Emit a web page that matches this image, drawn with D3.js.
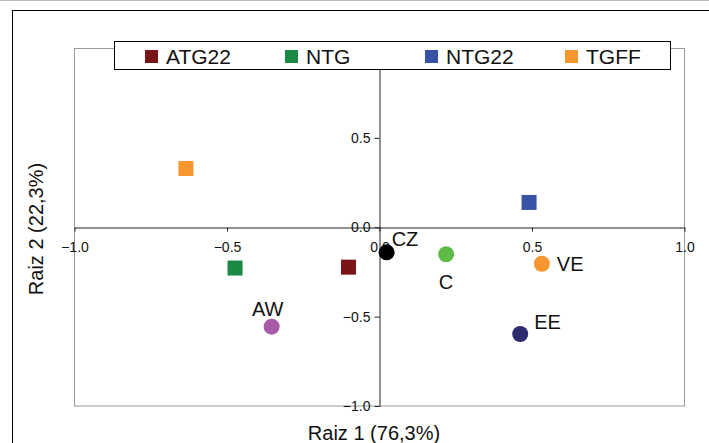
<!DOCTYPE html>
<html>
<head>
<meta charset="utf-8">
<script src="https://unpkg.com/d3@7/dist/d3.min.js"></script>
<style>
  body { margin: 0; background: #fff; }
  svg { display: block; font-family: "Liberation Sans", Arial, sans-serif; }
</style>
</head>
<body>
<div class="chart"></div>
<script>
// group centroids (squares)
const groups = ["ATG22", "NTG", "NTG22", "TGFF"];
const groupX = [-0.10, -0.472, 0.492, -0.633];
const groupY = [-0.226, -0.231, 0.136, 0.326];
const groupColors = ["#7a1416", "#1a8a44", "#3653a5", "#f7952f"];

// cases (circles)
const cases = ["CZ", "C", "VE", "AW", "EE"];
const caseX = [0.025, 0.22, 0.534, -0.352, 0.463];
const caseY = [-0.143, -0.154, -0.207, -0.559, -0.60];
const caseColors = ["#000000", "#5dbb46", "#f7952f", "#a75aa5", "#2e2b70"];
const caseLabelSide = ["topright", "below", "right", "above", "upright"];

const ticks = [-1.0, -0.5, 0.0, 0.5, 1.0];

const W = 709, H = 443;
const plot = { left: 74, right: 684, top: 48, bottom: 405.5 };

const svg = d3.select(".chart").append("svg")
  .attr("width", W)
  .attr("height", H);

// outer frame
svg.append("line")
  .attr("x1", 0).attr("x2", W).attr("y1", 0.5).attr("y2", 0.5)
  .attr("stroke", "#bbb");
svg.append("rect")
  .attr("x", 12.5).attr("y", 10.5)
  .attr("width", 800).attr("height", 600)
  .attr("fill", "none").attr("stroke", "#000");

const x = d3.scaleLinear().domain([-1, 1]).range([plot.left, plot.right]);
const y = d3.scaleLinear().domain([-1, 1]).range([plot.bottom, plot.top]);

// plot area border
svg.append("rect")
  .attr("x", plot.left + 0.5).attr("y", plot.top + 0.5)
  .attr("width", plot.right - plot.left).attr("height", plot.bottom - plot.top)
  .attr("fill", "none").attr("stroke", "#9a9a9a");

const fmt = d3.format(".1f");

// x axis through y = 0
const xAxis = d3.axisBottom(x).tickValues(ticks).tickFormat(fmt)
  .tickSize(4).tickSizeOuter(0).tickPadding(11);
const gx = svg.append("g")
  .attr("transform", `translate(0.5, ${Math.round(y(0)) + 0.5})`)
  .call(xAxis);

// y axis through x = 0
const yAxis = d3.axisLeft(y).tickValues(ticks).tickFormat(fmt)
  .tickSize(5).tickSizeOuter(0).tickPadding(4);
const gy = svg.append("g")
  .attr("transform", `translate(${Math.round(x(0)) + 0.5}, 0.5)`)
  .call(yAxis);

[gx, gy].forEach(g => {
  g.select(".domain").attr("stroke", "#222");
  g.selectAll(".tick line").attr("stroke", "#222");
  g.selectAll(".tick text")
    .attr("fill", "#111")
    .style("font-size", "14px")
    .style("font-family", "Liberation Sans, Arial, sans-serif");
});

// axis titles
svg.append("text")
  .attr("x", 374).attr("y", 440)
  .attr("text-anchor", "middle")
  .style("font-size", "20px")
  .attr("fill", "#111")
  .text("Raiz 1 (76,3%)");

svg.append("text")
  .attr("transform", "translate(43, 229) rotate(-90)")
  .attr("text-anchor", "middle")
  .style("font-size", "20px")
  .attr("fill", "#111")
  .text("Raiz 2 (22,3%)");

// squares
const sq = 15;
svg.selectAll("rect.grp")
  .data(groups)
  .enter()
  .append("rect")
  .attr("class", "grp")
  .attr("x", (d, i) => x(groupX[i]) - sq / 2)
  .attr("y", (d, i) => y(groupY[i]) - sq / 2)
  .attr("width", sq).attr("height", sq)
  .attr("fill", (d, i) => groupColors[i]);

// circles
svg.selectAll("circle.case")
  .data(cases)
  .enter()
  .append("circle")
  .attr("class", "case")
  .attr("cx", (d, i) => x(caseX[i]))
  .attr("cy", (d, i) => y(caseY[i]))
  .attr("r", 8)
  .attr("fill", (d, i) => caseColors[i]);

const labelPos = {
  topright: { dx: 5, dy: -6, anchor: "start" },
  upright: { dx: 14, dy: -5, anchor: "start" },
  right: { dx: 15, dy: 7, anchor: "start" },
  below: { dx: 0, dy: 35, anchor: "middle" },
  above: { dx: -4, dy: -11, anchor: "middle" }
};

svg.selectAll("text.caselbl")
  .data(cases)
  .enter()
  .append("text")
  .attr("class", "caselbl")
  .attr("x", (d, i) => x(caseX[i]) + labelPos[caseLabelSide[i]].dx)
  .attr("y", (d, i) => y(caseY[i]) + labelPos[caseLabelSide[i]].dy)
  .attr("text-anchor", (d, i) => labelPos[caseLabelSide[i]].anchor)
  .style("font-size", "20px")
  .attr("fill", "#111")
  .text(d => d);

// legend
const legend = svg.append("g");
legend.append("rect")
  .attr("x", 114.5).attr("y", 41.5)
  .attr("width", 556).attr("height", 28)
  .attr("fill", "#fff").attr("stroke", "#000");

const legendX = d3.scalePoint().domain(groups).range([145, 565]);
legend.selectAll("rect.key")
  .data(groups)
  .enter()
  .append("rect")
  .attr("class", "key")
  .attr("x", d => legendX(d))
  .attr("y", 50)
  .attr("width", 13).attr("height", 13)
  .attr("fill", (d, i) => groupColors[i]);

legend.selectAll("text.key")
  .data(groups)
  .enter()
  .append("text")
  .attr("class", "key")
  .attr("x", d => legendX(d) + 21)
  .attr("y", 63.5)
  .style("font-size", "21px")
  .attr("fill", "#111")
  .text(d => d);
</script>
</body>
</html>
